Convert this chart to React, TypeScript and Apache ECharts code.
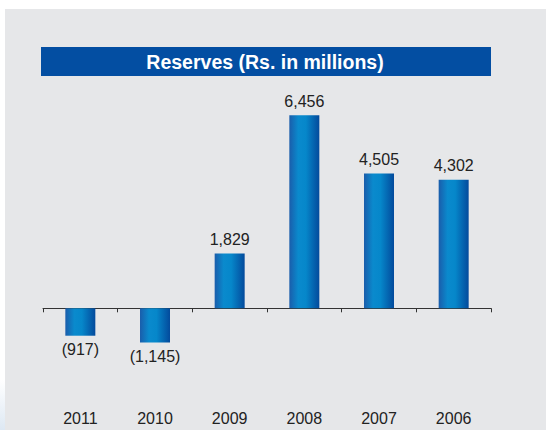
import React, { useEffect, useRef } from "react";
import * as echarts from "echarts";

const categories = ["2011", "2010", "2009", "2008", "2007", "2006"];
const reserves = [-917, -1145, 1829, 6456, 4505, 4302];
const titleText = "Reserves (Rs. in millions)";

function fmt(v: number): string {
  const s = Math.abs(v).toLocaleString("en-US");
  return v < 0 ? `(${s})` : s;
}

export default function App() {
  const ref = useRef<HTMLDivElement>(null);
  useEffect(() => {
    if (!ref.current) return;
    const chart = echarts.init(ref.current, null, { renderer: "svg" });
    const barGrad = new echarts.graphic.LinearGradient(0, 0, 1, 0, [
      { offset: 0, color: "#1a5dab" },
      { offset: 0.3, color: "#0a8acd" },
      { offset: 0.55, color: "#0687ca" },
      { offset: 1, color: "#034a9c" },
    ]);
    chart.setOption({
      animation: false,
      backgroundColor: "#ffffff",
      graphic: [
        {
          type: "rect",
          z: -10,
          shape: { x: 5, y: 9, width: 541, height: 421 },
          style: { fill: "#e6e7e9" },
          silent: true,
        },
        {
          type: "rect",
          z: -10,
          shape: { x: 0, y: 380, width: 5, height: 50 },
          style: {
            fill: new echarts.graphic.LinearGradient(0, 0, 0, 1, [
              { offset: 0, color: "#ffffff" },
              { offset: 1, color: "#dde8f3" },
            ]),
          },
          silent: true,
        },
        {
          type: "rect",
          z: 5,
          shape: { x: 41, y: 47, width: 450, height: 29 },
          style: { fill: "#034ea2" },
          silent: true,
        },
        {
          type: "text",
          z: 6,
          x: 265,
          y: 62,
          style: {
            text: titleText,
            fill: "#ffffff",
            font: "bold 19.5px 'Liberation Sans', Arial, sans-serif",
            textAlign: "center",
            textVerticalAlign: "middle",
          },
          silent: true,
        },
      ],
      grid: {
        left: 43,
        right: 55,
        top: 99,
        bottom: 32,
        containLabel: false,
        outerBoundsMode: "none",
      },
      xAxis: [
        {
          type: "category",
          data: categories,
          position: "bottom",
          axisLine: { show: true, onZero: true, lineStyle: { color: "#333333", width: 1 } },
          axisTick: { show: true, length: 4, lineStyle: { color: "#333333" } },
          axisLabel: { show: false },
          splitLine: { show: false },
        },
        {
          type: "category",
          data: categories,
          position: "bottom",
          axisLine: { show: false, onZero: false },
          axisTick: { show: false },
          axisLabel: {
            margin: 12,
            color: "#222222",
            fontSize: 16,
            fontFamily: "'Liberation Sans', Arial, sans-serif",
          },
          splitLine: { show: false },
        },
      ],
      yAxis: {
        type: "value",
        min: -3000,
        max: 7000,
        show: false,
        splitLine: { show: false },
      },
      series: [
        {
          type: "bar",
          barWidth: 30,
          data: reserves.map((v) => ({
            value: v,
            label: { position: v < 0 ? "bottom" : "top" },
          })),
          itemStyle: { color: barGrad },
          label: {
            show: true,
            distance: 6,
            color: "#222222",
            fontSize: 16,
            fontFamily: "'Liberation Sans', Arial, sans-serif",
            formatter: (p: any) => fmt(p.value),
          },
        },
      ],
    });
    return () => chart.dispose();
  }, []);
  return (
    <div
      ref={ref}
      style={{ position: "fixed", left: 0, top: 0, width: 546, height: 430 }}
    />
  );
}
